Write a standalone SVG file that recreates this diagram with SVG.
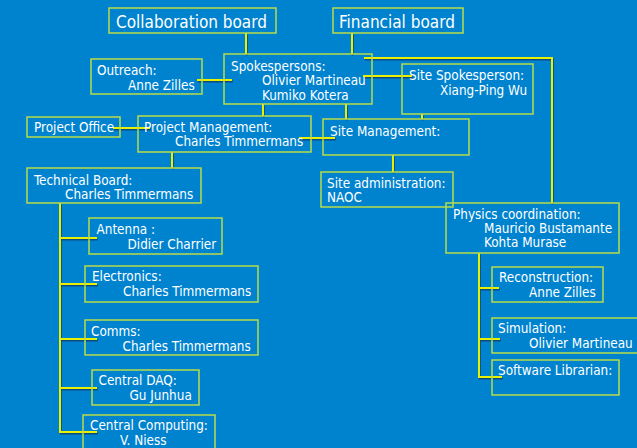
<svg xmlns="http://www.w3.org/2000/svg" width="637" height="448" viewBox="0 0 637 448">
  <defs>
    <filter id="wire-shadow" x="-5%" y="-5%" width="110%" height="110%">
      <feDropShadow dx="0.8" dy="1.5" stdDeviation="0.3" flood-color="#0a3a6a" flood-opacity="0.8"/>
    </filter>
  </defs>
  <style>
    .bg { fill: #0083cf; }
    .box { fill: none; stroke: #b9dc4a; stroke-width: 1.5; }
    .wire { fill: none; stroke: #e6f000; stroke-width: 2; }
    text { fill: #ffffff; font-family: "DejaVu Sans Condensed", "DejaVu Sans", sans-serif; font-stretch: condensed; font-size: 13.4px; }
    .big { font-size: 17px; }
  </style>
  <rect class="bg" x="0" y="0" width="637" height="448"/>

  <!-- connectors -->
  <g id="connectors" filter="url(#wire-shadow)">
    <path class="wire" d="M246 33 V54"/>
    <path class="wire" d="M352 33 V54"/>
    <path class="wire" d="M364 58 H552 V203"/>
    <path class="wire" d="M197 80 H232"/>
    <path class="wire" d="M363 76 H412"/>
    <path class="wire" d="M263 104 V116"/>
    <path class="wire" d="M346 104 V119"/>
    <path class="wire" d="M422 114 V119"/>
    <path class="wire" d="M113 128 H150"/>
    <path class="wire" d="M299 138 H335"/>
    <path class="wire" d="M393 155 V172"/>
    <path class="wire" d="M172 152 V168"/>
    <path class="wire" d="M60 203 V432 H97"/>
    <path class="wire" d="M60 238 H97"/>
    <path class="wire" d="M60 284 H97"/>
    <path class="wire" d="M60 339 H97"/>
    <path class="wire" d="M60 388 H97"/>
    <path class="wire" d="M479 253 V377 H502"/>
    <path class="wire" d="M479 288 H499"/>
    <path class="wire" d="M479 339 H500"/>
  </g>

  <g id="collaboration-board">
    <rect class="box" x="109" y="8" width="167" height="25"/>
    <text class="big" x="116" y="28">Collaboration board</text>
  </g>
  <g id="financial-board">
    <rect class="box" x="333" y="8" width="130" height="25"/>
    <text class="big" x="339" y="28">Financial board</text>
  </g>
  <g id="spokespersons">
    <rect class="box" x="224" y="54" width="148" height="50"/>
    <text x="231" y="71">Spokespersons:</text>
    <text x="262" y="85">Olivier Martineau</text>
    <text x="262" y="99.5">Kumiko Kotera</text>
  </g>
  <g id="site-spokesperson">
    <rect class="box" x="402" y="64" width="131" height="50"/>
    <text x="409" y="80">Site Spokesperson:</text>
    <text x="440" y="94.5">Xiang-Ping Wu</text>
  </g>
  <g id="outreach">
    <rect class="box" x="91" y="59" width="111" height="35"/>
    <text x="97" y="75">Outreach:</text>
    <text x="128" y="89.5">Anne Zilles</text>
  </g>
  <g id="project-office">
    <rect class="box" x="27" y="117" width="93" height="20"/>
    <text x="34" y="132">Project Office</text>
  </g>
  <g id="project-management">
    <rect class="box" x="138" y="116" width="173" height="36"/>
    <text x="144" y="131.5">Project Management:</text>
    <text x="175" y="146">Charles Timmermans</text>
  </g>
  <g id="site-management">
    <rect class="box" x="323" y="119" width="146" height="36"/>
    <text x="330" y="135.5">Site Management:</text>
  </g>
  <g id="site-administration">
    <rect class="box" x="321" y="172" width="132" height="35"/>
    <text x="327" y="187.5">Site administration:</text>
    <text x="327" y="202">NAOC</text>
  </g>
  <g id="physics-coordination">
    <rect class="box" x="446" y="203" width="173" height="50"/>
    <text x="453" y="218.5">Physics coordination:</text>
    <text x="484" y="233">Mauricio Bustamante</text>
    <text x="484" y="247">Kohta Murase</text>
  </g>
  <g id="reconstruction">
    <rect class="box" x="492" y="267" width="111" height="35"/>
    <text x="499" y="282">Reconstruction:</text>
    <text x="529" y="297">Anne Zilles</text>
  </g>
  <g id="simulation">
    <rect class="box" x="492" y="318" width="160" height="35"/>
    <text x="498" y="333">Simulation:</text>
    <text x="529" y="347.5">Olivier Martineau</text>
  </g>
  <g id="software-librarian">
    <rect class="box" x="492" y="360" width="127" height="35"/>
    <text x="498" y="375">Software Librarian:</text>
  </g>
  <g id="technical-board">
    <rect class="box" x="27" y="168" width="174" height="35"/>
    <text x="34" y="184.5">Technical Board:</text>
    <text x="65" y="198.5">Charles Timmermans</text>
  </g>
  <g id="antenna">
    <rect class="box" x="89" y="218" width="133" height="36"/>
    <text x="96.5" y="233.5">Antenna :</text>
    <text x="127.5" y="248.5">Didier Charrier</text>
  </g>
  <g id="electronics">
    <rect class="box" x="85" y="266" width="173" height="36"/>
    <text x="92" y="281">Electronics:</text>
    <text x="123" y="296">Charles Timmermans</text>
  </g>
  <g id="comms">
    <rect class="box" x="85" y="320" width="173" height="35"/>
    <text x="91" y="336">Comms:</text>
    <text x="122.5" y="351">Charles Timmermans</text>
  </g>
  <g id="central-daq">
    <rect class="box" x="92" y="370" width="107" height="35"/>
    <text x="98.5" y="385">Central DAQ:</text>
    <text x="129.5" y="400">Gu Junhua</text>
  </g>
  <g id="central-computing">
    <rect class="box" x="83" y="415" width="132" height="40"/>
    <text x="90" y="430">Central Computing:</text>
    <text x="120" y="445">V. Niess</text>
  </g>
</svg>
